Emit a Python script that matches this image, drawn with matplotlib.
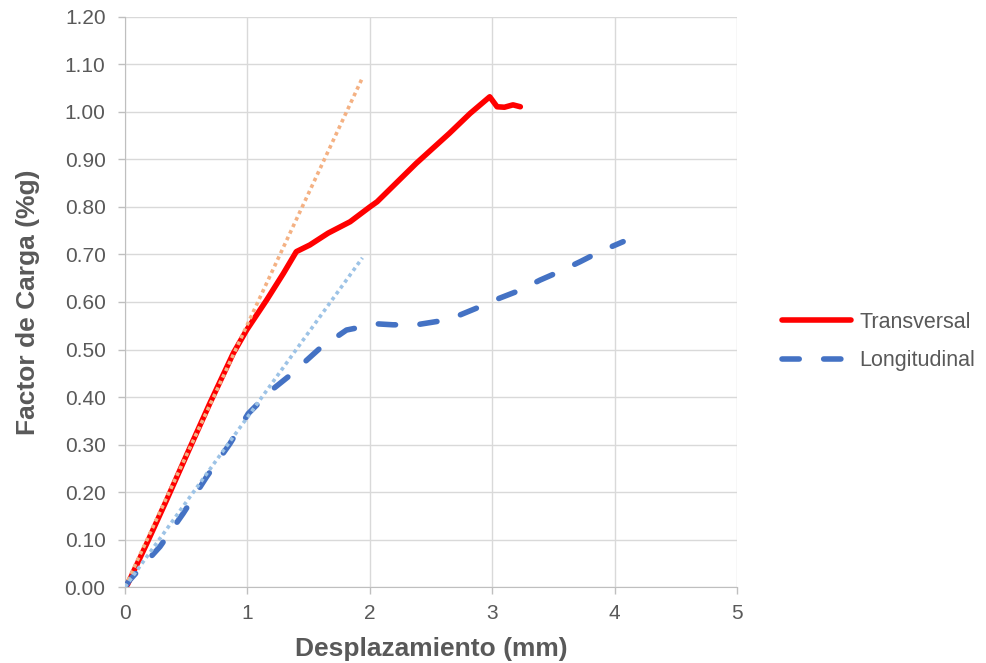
import matplotlib.pyplot as plt
import numpy as np

plt.rcParams['font.family'] = ['Liberation Sans', 'DejaVu Sans']

# Transversal curve (desplazamiento mm, factor de carga %g)
trans_x = [0.0, 0.02, 0.177, 0.34, 0.504, 0.694, 0.885, 0.994, 1.157, 1.294, 1.40,
           1.51, 1.66, 1.84, 2.00, 2.06, 2.38, 2.65, 2.82, 2.98, 3.04, 3.10, 3.17, 3.23]
trans_y = [0.0, 0.005, 0.091, 0.183, 0.278, 0.387, 0.492, 0.541, 0.604, 0.660, 0.706,
           0.720, 0.745, 0.769, 0.800, 0.811, 0.892, 0.955, 0.997, 1.032, 1.011, 1.010, 1.015, 1.011]

# Longitudinal curve
long_x = [0.0, 0.04, 0.286, 0.476, 0.667, 0.858, 1.007, 1.20, 1.35, 1.59, 1.81, 2.06, 2.19,
          2.38, 2.55, 2.74, 2.90, 3.06, 3.23, 3.39, 3.55, 3.72, 3.88, 4.07]
long_y = [0.0, 0.015, 0.085, 0.155, 0.232, 0.302, 0.365, 0.415, 0.446, 0.502, 0.541, 0.554, 0.552,
          0.552, 0.559, 0.573, 0.590, 0.608, 0.625, 0.646, 0.664, 0.685, 0.706, 0.727]

# linear trend lines
trend_x = [0.0, 1.94]
trend_trans_y = [0.0, 1.072]
trend_long_y = [0.0, 0.693]

grey = '#595959'

fig = plt.figure(figsize=(9.87, 6.63), dpi=100)
ax = fig.add_axes([0.1266, 0.1146, 0.6201, 0.8598])

ax.plot(trans_x, trans_y, color='#FF0000', lw=4, solid_capstyle='round',
        solid_joinstyle='round', label='Transversal', zorder=3)
ax.plot(long_x, long_y, color='#4472C4', lw=4, ls=(0, (3.1, 4.4)), dash_capstyle='round',
        dash_joinstyle='round', label='Longitudinal', zorder=3)
# trend lines sit on top of the series
ax.plot(trend_x, trend_trans_y, color='#F4B183', lw=2.6, ls=(0, (1, 1)), zorder=4)
ax.plot(trend_x, trend_long_y, color='#9DC3E6', lw=2.6, ls=(0, (1, 1)), zorder=4)

ax.set_xlim(0, 5)
ax.set_ylim(0, 1.2)
ax.set_xticks(np.arange(0, 6, 1))
yt = np.arange(0, 1.21, 0.1)
ax.set_yticks(yt)
ax.set_yticklabels([f'{v:.2f}' for v in yt])
ax.grid(True, color='#D9D9D9', lw=1)
ax.set_axisbelow(True)
for s in ['top', 'right']:
    ax.spines[s].set_visible(False)
for s in ['left', 'bottom']:
    ax.spines[s].set_color('#BFBFBF')
ax.tick_params(length=5, width=1, color='#BFBFBF', labelsize=15, labelcolor=grey)
ax.tick_params(axis='y', pad=9)
ax.tick_params(axis='x', pad=7)

ax.set_xlabel('Desplazamiento (mm)', fontsize=19, fontweight='bold', color=grey)
ax.set_ylabel('Factor de Carga (%g)', fontsize=19, fontweight='bold', color=grey)
ax.xaxis.set_label_coords(0.5, -0.108)
ax.xaxis.label.set_verticalalignment('center')
ax.yaxis.set_label_coords(-0.158, 0.5)
ax.yaxis.label.set_verticalalignment('center')

leg = fig.legend(loc='center left', bbox_to_anchor=(0.784, 0.485), frameon=False,
                 borderaxespad=0, fontsize=15.5, handlelength=3.2, handletextpad=0.36,
                 labelspacing=0.8)
for t in leg.get_texts():
    t.set_color(grey)

fig.savefig('out.png', dpi=100)
